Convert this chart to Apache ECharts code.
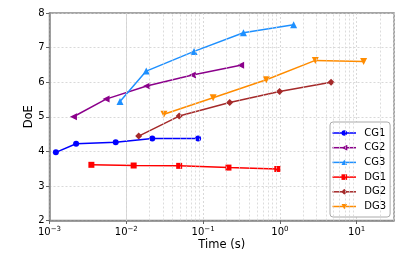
<!DOCTYPE html>
<html><head><meta charset="utf-8">
<script src="https://cdn.jsdelivr.net/npm/echarts@6/dist/echarts.min.js"></script>
<style>html,body{margin:0;padding:0;background:#fff}#c{width:415px;height:260px}</style>
</head><body><div id="c"></div>
<script>
const seriesNames = ['CG1','CG2','CG3','DG1','DG2','DG3'];
const cg1X = [0.00121, 0.00222, 0.00728, 0.0218, 0.0861];
const cg1Y = [3.97, 4.22, 4.26, 4.37, 4.37];
const cg2X = [0.00205, 0.00545, 0.0184, 0.0728, 0.308];
const cg2Y = [5.0, 5.51, 5.89, 6.21, 6.49];
const cg3X = [0.00828, 0.0182, 0.0763, 0.335, 1.51];
const cg3Y = [5.44, 6.32, 6.89, 7.43, 7.66];
const dg1X = [0.00351, 0.01247, 0.0488, 0.214, 0.925];
const dg1Y = [3.61, 3.59, 3.58, 3.53, 3.49];
const dg2X = [0.0145, 0.0488, 0.222, 0.99, 4.64];
const dg2Y = [4.44, 5.02, 5.41, 5.73, 6.00];
const dg3X = [0.0309, 0.135, 0.665, 2.89, 12.3];
const dg3Y = [5.07, 5.55, 6.07, 6.63, 6.60];
const yTicks = [2,3,4,5,6,7,8];
const xMinor = [];
for (let e = -3; e <= 1; e++) for (let m = 2; m <= 9; m++) { const v = m * Math.pow(10, e); if (v <= 30) xMinor.push(v); }

const xs = [cg1X, cg2X, cg3X, dg1X, dg2X, dg3X];
const ys = [cg1Y, cg2Y, cg3Y, dg1Y, dg2Y, dg3Y];
const colors = ['#0000ff', '#8b008b', '#1e90ff', '#ff0000', '#a52a2a', '#ff8c00'];
const symbols = ['circle', 'triangle', 'triangle', 'rect', 'diamond', 'triangle'];
const rot = [0, 90, 0, 0, 0, 180];
const sizes = [6, 7, 7, 6, 7, 7];

// legend icons: line + marker as small SVG images (24 x 6)
const MARK = [
  '<circle cx="12" cy="3" r="2.8"/>',
  '<path d="M15 0 L15 6 L9.5 3 Z"/>',
  '<path d="M12 0 L15 6 L9 6 Z"/>',
  '<rect x="9.2" y="0.2" width="5.6" height="5.6"/>',
  '<path d="M12 0 L15 3 L12 6 L9 3 Z"/>',
  '<path d="M9 0 L15 0 L12 6 Z"/>'
];
const iconFor = i => 'image://data:image/svg+xml;charset=utf-8,' + encodeURIComponent(
  '<svg xmlns="http://www.w3.org/2000/svg" width="48" height="12" viewBox="0 0 24 6"><g fill="' + colors[i] + '">' +
  '<rect x="0" y="2.25" width="24" height="1.5"/>' + MARK[i] + '</g></svg>');

const chart = echarts.init(document.getElementById('c'), null, {renderer: 'canvas'});
const FONT = 'DejaVu Sans';
const series = seriesNames.map((n, i) => ({
  name: n, type: 'line',
  data: xs[i].map((x, j) => [x, ys[i][j]]),
  symbol: symbols[i], symbolRotate: rot[i], symbolSize: sizes[i], showAllSymbol: true,
  lineStyle: {color: colors[i], width: 1.5},
  itemStyle: {color: colors[i], borderWidth: 0},
  z: 3, animation: false
}));
series.push({
  type: 'line', data: [], silent: true, animation: false,
  markLine: {
    silent: true, symbol: 'none', animation: false, label: {show: false},
    lineStyle: {color: '#d4d4d4', type: [2, 2], width: 0.8},
    data: xMinor.map(v => ({xAxis: v}))
  }
});
const isPow = v => Math.abs(Math.log10(v) - Math.round(Math.log10(v))) < 1e-6;
chart.setOption({
  animation: false,
  textStyle: {fontFamily: FONT},
  grid: {left: 49.5, right: 21, top: 13, bottom: 39.5, show: true, borderColor: '#888', borderWidth: 1.5},
  xAxis: {
    type: 'log', logBase: 10, min: 0.001, max: 30.6,
    name: 'Time (s)', nameLocation: 'middle', nameGap: 18.5, nameMoveOverlap: false,
    nameTextStyle: {fontFamily: FONT, fontSize: 11.5, color: '#000', verticalAlign: 'top'},
    axisLine: {lineStyle: {color: '#888', width: 1.5}},
    axisTick: {show: true, length: 3.5, lineStyle: {color: '#666'}},
    splitLine: {show: true, lineStyle: {color: '#d0d0d0', type: [2, 2], width: 0.8}},
    axisLabel: {
      margin: 5, showMaxLabel: false,
      formatter: v => isPow(v) ? '{a|10}{s|' + String(Math.round(Math.log10(v))).replace('-', '\u2212') + '}' : '',
      rich: {
        a: {fontFamily: FONT, fontSize: 10, color: '#000'},
        s: {fontFamily: FONT, fontSize: 7, color: '#000', padding: [0, 0, 6, 0]}
      }
    }
  },
  yAxis: {
    type: 'value', min: yTicks[0], max: yTicks[yTicks.length - 1], interval: 1,
    name: 'DoE', nameLocation: 'middle', nameGap: 14, nameMoveOverlap: false,
    nameTextStyle: {fontFamily: FONT, fontSize: 11.5, color: '#000'},
    axisLine: {show: true, lineStyle: {color: '#888', width: 1.5}},
    axisTick: {show: true, length: 3.5, lineStyle: {color: '#666'}},
    splitLine: {show: true, lineStyle: {color: '#d0d0d0', type: [2, 2], width: 0.8}},
    axisLabel: {fontFamily: FONT, fontSize: 10, color: '#000', margin: 5}
  },
  legend: {
    data: seriesNames.map((n, i) => ({name: n, icon: iconFor(i)})),
    orient: 'vertical', left: 330, top: 122,
    backgroundColor: '#fff', borderColor: '#aaa', borderWidth: 1, borderRadius: 3,
    padding: [5.5, 4, 5, 2.3], itemGap: 3.7, itemWidth: 24, itemHeight: 6,
    textStyle: {fontFamily: FONT, fontSize: 10, color: '#000', padding: [0, 0, 0, 3], lineHeight: 11},
  },
  series: series
});
</script></body></html>
